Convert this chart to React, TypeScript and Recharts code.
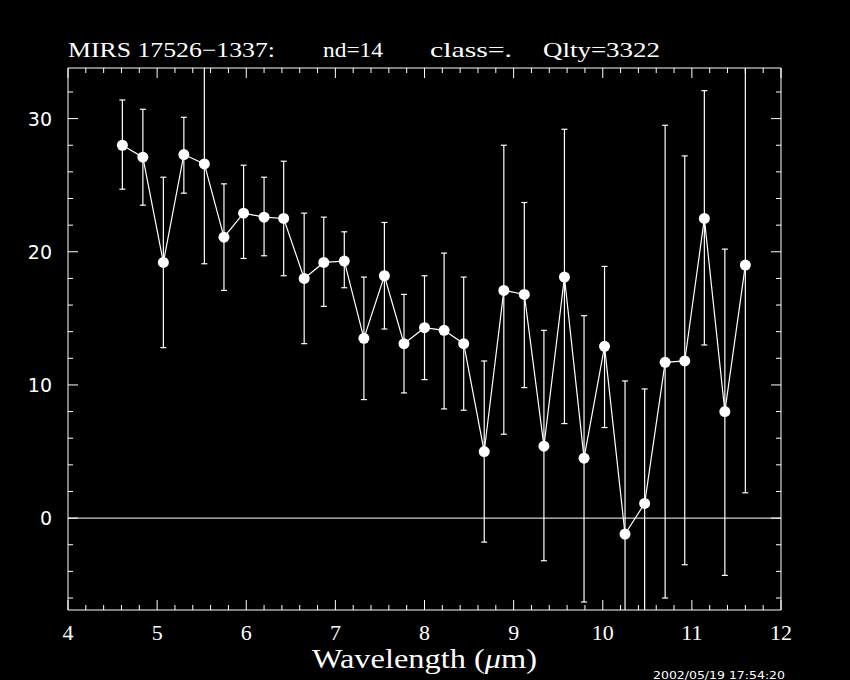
import React from 'react';
import { ComposedChart, Line, XAxis, YAxis, ErrorBar, ReferenceLine } from 'recharts';

const wavelength = [4.61, 4.84, 5.07, 5.30, 5.53, 5.75, 5.97, 6.20, 6.42, 6.65, 6.87, 7.10, 7.32, 7.55, 7.77, 8.00, 8.22, 8.44, 8.67, 8.89, 9.12, 9.34, 9.57, 9.79, 10.02, 10.25, 10.47, 10.70, 10.92, 11.14, 11.37, 11.60];
const flux = [28.0, 27.1, 19.2, 27.3, 26.6, 21.1, 22.9, 22.6, 22.5, 18.0, 19.2, 19.3, 13.5, 18.2, 13.1, 14.3, 14.1, 13.1, 5.0, 17.1, 16.8, 5.4, 18.1, 4.5, 12.9, -1.2, 1.1, 11.7, 11.8, 22.5, 8.0, 19.0];
const fluxHigh = [31.4, 30.7, 25.6, 30.1, 34.1, 25.1, 26.5, 25.6, 26.8, 22.9, 22.6, 21.5, 18.1, 22.2, 16.8, 18.2, 19.9, 18.1, 11.8, 28.0, 23.7, 14.1, 29.2, 15.2, 18.9, 10.3, 9.7, 29.5, 27.2, 32.1, 20.2, 36.1];
const fluxLow = [24.7, 23.5, 12.8, 24.4, 19.1, 17.1, 19.5, 19.7, 18.2, 13.1, 15.9, 17.3, 8.9, 14.2, 9.4, 10.4, 8.2, 8.1, -1.8, 6.3, 9.8, -3.2, 7.1, -6.3, 6.8, -12.7, -7.5, -6.0, -3.5, 13.0, -4.3, 1.9];

const xMajorTicks = [4, 5, 6, 7, 8, 9, 10, 11, 12];
const xTicks = [4, 4.2, 4.4, 4.6, 4.8, 5, 5.2, 5.4, 5.6, 5.8, 6, 6.2, 6.4, 6.6, 6.8, 7, 7.2, 7.4, 7.6, 7.8, 8, 8.2, 8.4, 8.6, 8.8, 9, 9.2, 9.4, 9.6, 9.8, 10, 10.2, 10.4, 10.6, 10.8, 11, 11.2, 11.4, 11.6, 11.8, 12];
const yMajorTicks = [0, 10, 20, 30];
const yTicks = [-6, -4, -2, 0, 2, 4, 6, 8, 10, 12, 14, 16, 18, 20, 22, 24, 26, 28, 30, 32];

const titleParts = ['MIRS 17526\u22121337:', 'nd=14', 'class=.', 'Qlty=3322'];
const xLabel = 'Wavelength (';
const dateStamp = '2002/05/19 17:54:20';

const data = wavelength.map((w, i) => ({
  wl: w,
  flux: flux[i],
  err: [flux[i] - fluxLow[i], fluxHigh[i] - flux[i]],
}));

const W = '#ffffff';
const serif = '"Liberation Serif", "DejaVu Serif", serif';
const sans = '"DejaVu Sans", sans-serif';

const isMajor = (v: number, majors: number[]) => majors.some((m) => Math.abs(m - v) < 1e-6);

const BottomTick = (p: any) => {
  const { x, y, payload } = p;
  const major = isMajor(payload.value, xMajorTicks);
  return (
    <g>
      <line x1={x} x2={x} y1={y} y2={y - (major ? 10 : 5)} stroke={W} strokeWidth={1} />
      {major && (
        <text x={x} y={y + 30} textAnchor="middle" fill={W} fontFamily={serif} fontSize={22}>
          {Math.round(payload.value)}
        </text>
      )}
    </g>
  );
};

const TopTick = (p: any) => {
  const { x, y, payload } = p;
  const major = isMajor(payload.value, xMajorTicks);
  return <line x1={x} x2={x} y1={y} y2={y + (major ? 10 : 5)} stroke={W} strokeWidth={1} />;
};

const LeftTick = (p: any) => {
  const { x, y, payload } = p;
  const major = isMajor(payload.value, yMajorTicks);
  return (
    <g>
      <line x1={x} x2={x + (major ? 10 : 5)} y1={y} y2={y} stroke={W} strokeWidth={1} />
      {major && (
        <text x={x - 16} y={y + 7} textAnchor="end" fill={W} fontFamily={sans} fontSize={19}>
          {payload.value}
        </text>
      )}
    </g>
  );
};

const RightTick = (p: any) => {
  const { x, y, payload } = p;
  const major = isMajor(payload.value, yMajorTicks);
  return <line x1={x} x2={x - (major ? 10 : 5)} y1={y} y2={y} stroke={W} strokeWidth={1} />;
};

const css = `.recharts-errorBars, .recharts-errorBar { clip-path: url(#plotAreaClip); }`;

export default function App() {
  return (
    <div style={{ position: 'absolute', left: 0, top: 0, width: 850, height: 680, background: '#000', overflow: 'hidden' }}>
      <style>{css}</style>
      <svg width={0} height={0} style={{ position: 'absolute', left: 0, top: 0 }}>
        <defs>
          <clipPath id="plotAreaClip" clipPathUnits="userSpaceOnUse">
            <rect x={68} y={68} width={713} height={542} />
          </clipPath>
        </defs>
      </svg>
      <ComposedChart width={850} height={680} data={data} margin={{ top: 67, right: 68, bottom: 69, left: 67 }}>
        <XAxis
          xAxisId="b"
          dataKey="wl"
          type="number"
          domain={[4, 12]}
          ticks={xTicks}
          interval={0}
          height={1}
          tickSize={0}
          tickMargin={0}
          tickLine={false}
          axisLine={{ stroke: W, strokeWidth: 1 }}
          tick={BottomTick}
          allowDataOverflow
        />
        <XAxis
          xAxisId="t"
          orientation="top"
          dataKey="wl"
          type="number"
          domain={[4, 12]}
          ticks={xTicks}
          interval={0}
          height={1}
          tickSize={0}
          tickMargin={0}
          tickLine={false}
          axisLine={{ stroke: W, strokeWidth: 1 }}
          tick={TopTick}
          allowDataOverflow
        />
        <YAxis
          yAxisId="l"
          type="number"
          domain={[-6.9, 33.8]}
          ticks={yTicks}
          interval={0}
          width={1}
          tickSize={0}
          tickMargin={0}
          tickLine={false}
          axisLine={{ stroke: W, strokeWidth: 1 }}
          tick={LeftTick}
          allowDataOverflow
        />
        <YAxis
          yAxisId="r"
          orientation="right"
          type="number"
          domain={[-6.9, 33.8]}
          ticks={yTicks}
          interval={0}
          width={1}
          tickSize={0}
          tickMargin={0}
          tickLine={false}
          axisLine={{ stroke: W, strokeWidth: 1 }}
          tick={RightTick}
          allowDataOverflow
        />
        <ReferenceLine xAxisId="b" yAxisId="l" y={0} stroke={W} strokeWidth={1} />
        <Line
          xAxisId="b"
          yAxisId="l"
          type="linear"
          dataKey="flux"
          stroke={W}
          strokeWidth={1.2}
          dot={{ r: 5.5, fill: W, stroke: W, strokeWidth: 0 }}
          activeDot={false}
          isAnimationActive={false}
        >
          <ErrorBar dataKey="err" direction="y" width={3} stroke={W} strokeWidth={1.2} />
        </Line>
      </ComposedChart>
      <svg width={850} height={680} style={{ position: 'absolute', left: 0, top: 0, pointerEvents: 'none' }}>
        <g fill={W} fontFamily={serif} fontSize={21}>
          <text x={68} y={57} textLength={207} lengthAdjust="spacingAndGlyphs">{titleParts[0]}</text>
          <text x={323} y={57} textLength={60} lengthAdjust="spacingAndGlyphs">{titleParts[1]}</text>
          <text x={430} y={57} textLength={82} lengthAdjust="spacingAndGlyphs">{titleParts[2]}</text>
          <text x={543} y={57} textLength={117} lengthAdjust="spacingAndGlyphs">{titleParts[3]}</text>
        </g>
        <text x={312} y={668} fill={W} fontFamily={serif} fontSize={27} textLength={225} lengthAdjust="spacingAndGlyphs">
          {xLabel}
          <tspan fontStyle="italic">{'\u03bc'}</tspan>
          {'m)'}
        </text>
        <text x={653} y={679} fill={W} fontFamily={sans} fontSize={10} textLength={132} lengthAdjust="spacingAndGlyphs">
          {dateStamp}
        </text>
      </svg>
    </div>
  );
}
